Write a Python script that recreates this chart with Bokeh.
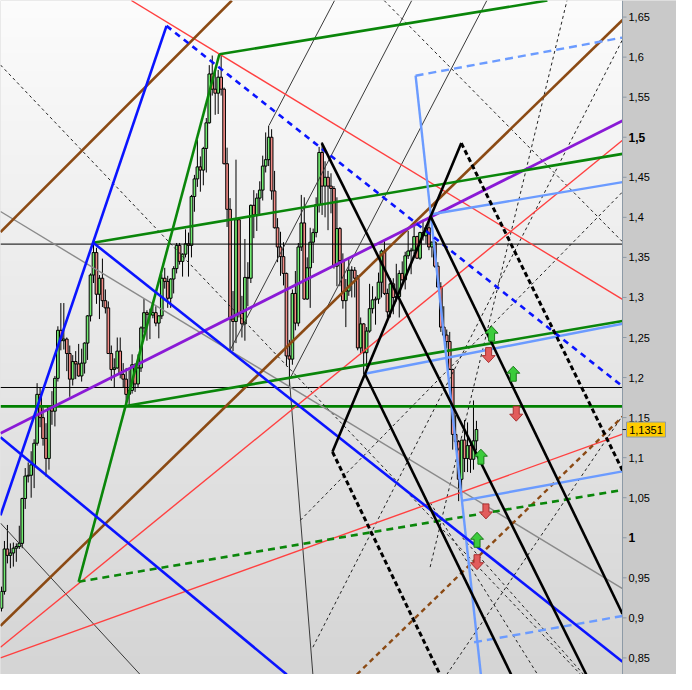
import numpy as np
from bokeh.plotting import figure
from bokeh.models import Range1d, ColumnDataSource
from bokeh.embed import file_html
from bokeh.resources import INLINE

# ---------------- data: monthly EUR/USD candles, May 2002 .. Sep 2015 ----------------
opens = [0.9120, 0.9330, 0.9860, 0.9780, 0.9810, 0.9870, 0.9890, 0.9930,
         1.0490, 1.0770, 1.0780, 1.0910, 1.1180, 1.1790, 1.1500, 1.1240, 1.0990, 1.1650, 1.1580, 1.1990,
         1.2590, 1.2460, 1.2480, 1.2300, 1.1980, 1.2200, 1.2170, 1.2020, 1.2180, 1.2430, 1.2770, 1.3280,
         1.3560, 1.3040, 1.3240, 1.2960, 1.2870, 1.2300, 1.2100, 1.2120, 1.2330, 1.2040, 1.1980, 1.1790,
         1.1840, 1.2160, 1.1920, 1.2120, 1.2620, 1.2810, 1.2790, 1.2780, 1.2810, 1.2680, 1.2770, 1.3240,
         1.3200, 1.2990, 1.3230, 1.3360, 1.3650, 1.3450, 1.3540, 1.3670, 1.3650, 1.4260, 1.4480, 1.4630,
         1.4590, 1.4860, 1.5180, 1.5790, 1.5600, 1.5550, 1.5750, 1.5600, 1.4670, 1.4100, 1.2730, 1.2700,
         1.3970, 1.2800, 1.2670, 1.3250, 1.3240, 1.4150, 1.4030, 1.4240, 1.4340, 1.4640, 1.4720, 1.5000,
         1.4330, 1.3870, 1.3630, 1.3510, 1.3300, 1.2270, 1.2230, 1.3050, 1.2680, 1.3630, 1.3930, 1.2980,
         1.3370, 1.3690, 1.3810, 1.4160, 1.4810, 1.4390, 1.4500, 1.4390, 1.4360, 1.3390, 1.3860, 1.3460,
         1.2960, 1.3080, 1.3340, 1.3340, 1.3240, 1.2370, 1.2670, 1.2310, 1.2580, 1.2860, 1.2970, 1.2980,
         1.3190, 1.3580, 1.3050, 1.2820, 1.3170, 1.3000, 1.3010, 1.3300, 1.3220, 1.3520, 1.3580, 1.3590,
         1.3760, 1.3490, 1.3810, 1.3770, 1.3870, 1.3630, 1.3690, 1.3390, 1.3130, 1.2630, 1.2530, 1.2450,
         1.2100, 1.1290, 1.1200, 1.0730, 1.1220, 1.0990, 1.1150, 1.0980, 1.1210]
highs = [0.9390, 0.9960, 1.0160, 0.9930, 0.9940, 0.9930, 1.0150, 1.0500,
         1.0870, 1.0940, 1.1080, 1.1230, 1.1930, 1.1870, 1.1630, 1.1430, 1.1650, 1.1830, 1.2020, 1.2640,
         1.2930, 1.2930, 1.2500, 1.2400, 1.2280, 1.2330, 1.2420, 1.2360, 1.2440, 1.2780, 1.3300, 1.3666,
         1.3620, 1.3280, 1.3485, 1.3100, 1.2950, 1.2400, 1.2240, 1.2500, 1.2500, 1.2180, 1.2120, 1.2090,
         1.2290, 1.2180, 1.2290, 1.2640, 1.2980, 1.2840, 1.2860, 1.2950, 1.2890, 1.2780, 1.3290, 1.3370,
         1.3270, 1.3240, 1.3390, 1.3680, 1.3680, 1.3550, 1.3850, 1.3810, 1.4280, 1.4530, 1.4970, 1.4760,
         1.4880, 1.5240, 1.5900, 1.6020, 1.5820, 1.5840, 1.6040, 1.5620, 1.4870, 1.4240, 1.3080, 1.4720,
         1.4000, 1.3020, 1.3730, 1.3440, 1.4160, 1.4340, 1.4300, 1.4450, 1.4770, 1.5060, 1.5144, 1.5100,
         1.4580, 1.3990, 1.3820, 1.3690, 1.3310, 1.2470, 1.3100, 1.3330, 1.3680, 1.4280, 1.4250, 1.3500,
         1.3870, 1.3860, 1.4250, 1.4880, 1.4940, 1.4700, 1.4580, 1.4550, 1.4390, 1.4250, 1.3880, 1.3550,
         1.3230, 1.3490, 1.3390, 1.3380, 1.3280, 1.2750, 1.2680, 1.2630, 1.3170, 1.3140, 1.3010, 1.3310,
         1.3600, 1.3710, 1.3110, 1.3240, 1.3240, 1.3420, 1.3340, 1.3450, 1.3570, 1.3830, 1.3620, 1.3890,
         1.3770, 1.3820, 1.3970, 1.3900, 1.3993, 1.3700, 1.3700, 1.3440, 1.3190, 1.2890, 1.2600, 1.2570,
         1.2110, 1.1530, 1.1220, 1.1210, 1.1470, 1.1440, 1.1220, 1.1714, 1.1460]
lows = [0.9080, 0.9290, 0.9680, 0.9620, 0.9640, 0.9700, 0.9860, 0.9870,
        1.0360, 1.0690, 1.0500, 1.0620, 1.1150, 1.1380, 1.1150, 1.0765, 1.0850, 1.1410, 1.1390, 1.1950,
        1.2340, 1.2350, 1.2080, 1.1760, 1.1900, 1.1980, 1.2010, 1.1950, 1.2050, 1.2220, 1.2700, 1.3180,
        1.2920, 1.2730, 1.2880, 1.2800, 1.2300, 1.1960, 1.1870, 1.2110, 1.1990, 1.1870, 1.1640, 1.1640,
        1.1800, 1.1820, 1.1870, 1.2070, 1.2560, 1.2460, 1.2480, 1.2740, 1.2640, 1.2490, 1.2730, 1.3110,
        1.2870, 1.2870, 1.3050, 1.3300, 1.3410, 1.3260, 1.3500, 1.3260, 1.3500, 1.4070, 1.4380, 1.4320,
        1.4400, 1.4560, 1.5170, 1.5520, 1.5280, 1.5290, 1.5520, 1.4660, 1.3880, 1.2330, 1.2330, 1.2430,
        1.2750, 1.2500, 1.2460, 1.2890, 1.3180, 1.3740, 1.3830, 1.4030, 1.4210, 1.4560, 1.4640, 1.4220,
        1.3860, 1.3440, 1.3270, 1.3150, 1.2140, 1.1876, 1.2160, 1.2590, 1.2640, 1.3580, 1.2970, 1.2970,
        1.2870, 1.3430, 1.3750, 1.4060, 1.4030, 1.4000, 1.3840, 1.4050, 1.3360, 1.3140, 1.3140, 1.2860,
        1.2630, 1.3020, 1.3000, 1.3000, 1.2340, 1.2290, 1.2042, 1.2130, 1.2560, 1.2800, 1.2660, 1.2920,
        1.3000, 1.3030, 1.2750, 1.2750, 1.2790, 1.2950, 1.2750, 1.3210, 1.3100, 1.3480, 1.3290, 1.3540,
        1.3480, 1.3470, 1.3710, 1.3670, 1.3590, 1.3500, 1.3370, 1.3130, 1.2570, 1.2500, 1.2360, 1.2100,
        1.1100, 1.1100, 1.0457, 1.0520, 1.0820, 1.0820, 1.0810, 1.0850, 1.1090]
closes = [0.9330, 0.9860, 0.9780, 0.9810, 0.9870, 0.9890, 0.9930, 1.0490,
          1.0770, 1.0780, 1.0910, 1.1180, 1.1790, 1.1500, 1.1240, 1.0990, 1.1650, 1.1580, 1.1990, 1.2590,
          1.2460, 1.2480, 1.2300, 1.1980, 1.2200, 1.2170, 1.2020, 1.2180, 1.2430, 1.2770, 1.3280, 1.3560,
          1.3040, 1.3240, 1.2960, 1.2870, 1.2300, 1.2100, 1.2120, 1.2330, 1.2040, 1.1980, 1.1790, 1.1840,
          1.2160, 1.1920, 1.2120, 1.2620, 1.2810, 1.2790, 1.2780, 1.2810, 1.2680, 1.2770, 1.3240, 1.3200,
          1.2990, 1.3230, 1.3360, 1.3650, 1.3450, 1.3540, 1.3670, 1.3650, 1.4260, 1.4480, 1.4630, 1.4590,
          1.4860, 1.5180, 1.5790, 1.5600, 1.5550, 1.5750, 1.5600, 1.4670, 1.4100, 1.2730, 1.2700, 1.3970,
          1.2800, 1.2670, 1.3250, 1.3240, 1.4150, 1.4030, 1.4240, 1.4340, 1.4640, 1.4720, 1.5000, 1.4330,
          1.3870, 1.3630, 1.3510, 1.3300, 1.2270, 1.2230, 1.3050, 1.2680, 1.3630, 1.3930, 1.2980, 1.3370,
          1.3690, 1.3810, 1.4160, 1.4810, 1.4390, 1.4500, 1.4390, 1.4360, 1.3390, 1.3860, 1.3460, 1.2960,
          1.3080, 1.3340, 1.3340, 1.3240, 1.2370, 1.2670, 1.2310, 1.2580, 1.2860, 1.2970, 1.2980, 1.3190,
          1.3580, 1.3050, 1.2820, 1.3170, 1.3000, 1.3010, 1.3300, 1.3220, 1.3520, 1.3580, 1.3590, 1.3760,
          1.3490, 1.3810, 1.3770, 1.3870, 1.3630, 1.3690, 1.3390, 1.3130, 1.2630, 1.2530, 1.2450, 1.2100,
          1.1290, 1.1200, 1.0730, 1.1220, 1.0990, 1.1150, 1.0980, 1.1210, 1.1351]
last_price = 1.1351
last_price_label = "1,1351"

# horizontal levels
black_levels = [1.3666, 1.1876]
green_levels = [1.1640]

# trend lines: (x0, y0, x1, y1) in (month index, price)
blue_solid = dict(x0=[-0.33, 30.9, -0.33], y0=[1.0280, 1.3683, 1.1256],
                  x1=[55.6, 209.2, 96.1], y1=[1.6390, 0.8451, 0.8293])
blue_dashed = dict(x0=[55.6], y0=[1.6390], x1=[209.2], y1=[1.1890])
green_solid = dict(x0=[30.9, 26.0, 73.4, 41.8], y0=[1.3683, 0.9451, 1.6036, 1.1646],
                   x1=[209.2, 73.4, 183.9, 209.2], y1=[1.4792, 1.6036, 1.6707, 1.2707])
green_dashed = dict(x0=[26.0], y0=[0.9451], x1=[209.2], y1=[1.0597])
brown_solid = dict(x0=[-0.33, -0.33], y0=[1.3817, 0.8902], x1=[77.6, 209.2], y1=[1.6707, 1.6463])
brown_dashed = dict(x0=[119.7], y0=[0.8293], x1=[209.2], y1=[1.1512])
purple_solid = dict(x0=[-0.33], y0=[1.1305], x1=[209.2], y1=[1.5207])
red_solid = dict(x0=[43.75, -0.33, -0.33], y0=[1.6707, 0.8634, 0.8500],
                 x1=[209.2, 209.2, 209.2], y1=[1.2975, 1.4963, 1.1293])
lightblue_solid = dict(x0=[139.5, 122.4, 144.4, 155.3], y0=[1.5768, 1.2048, 1.4036, 1.0463],
                       x1=[161.5, 209.2, 209.2, 209.2], y1=[0.8293, 1.2671, 1.4439, 1.0829])
lightblue_dashed = dict(x0=[139.5, 159.2], y0=[1.5768, 0.8695], x1=[209.2, 209.2], y1=[1.6244, 0.9024])
black_thick = dict(x0=[107.9, 122.4, 144.4, 111.5], y0=[1.4927, 1.2048, 1.4024, 1.1073],
                   x1=[197.0, 171.7, 209.2, 154.9], y1=[0.8293, 0.8293, 0.9049, 1.4927])
black_thick_dashed = dict(x0=[154.9, 111.5], y0=[1.4927, 1.1073], x1=[209.2, 147.7], y1=[1.0841, 0.8293])
dark_thin = dict(x0=[90.1, 77.0, 97.0, 97.0, -0.33], y0=[1.5146, 1.2341, 1.1975, 1.1975, 1.0183],
                 x1=[112.2, 138.2, 163.5, 104.9, 46.7], y1=[1.6707, 1.6707, 1.6707, 0.8293, 0.8293])
gray_thin = dict(x0=[-0.33], y0=[1.4073], x1=[209.2], y1=[0.9366])
dashed_thin = dict(x0=[-0.33, 128.9, 104.9, 100.7, 144.4, 150.0, 144.4, 155.3],
                   y0=[1.5902, 1.6707, 0.8634, 1.0219, 0.9634, 0.8293, 1.0439, 1.0000],
                   x1=[195.1, 209.2, 209.2, 209.2, 190.5, 209.2, 180.6, 196.1],
                   y1=[0.8293, 1.3695, 1.6219, 1.4317, 1.6707, 1.1524, 0.8293, 0.8293])

# signal arrows
up_arrow_x = [165.1, 172.4, 161.5, 160.2]
up_arrow_y = [1.2548, 1.2048, 1.1012, 0.9975]
down_arrow_x = [164.1, 173.4, 163.2, 160.2]
down_arrow_y = [1.2280, 1.1549, 1.0329, 0.9695]

# price axis ticks
tick_values = [0.85, 0.9, 0.95, 1.0, 1.05, 1.1, 1.15, 1.2, 1.25, 1.3, 1.35, 1.4, 1.45, 1.5, 1.55, 1.6, 1.65]
tick_labels = ["0,85", "0,9", "0,95", "1", "1,05", "1,1", "1,15", "1,2", "1,25", "1,3", "1,35",
               "1,4", "1,45", "1,5", "1,55", "1,6", "1,65"]
bold_ticks = [1.0, 1.5]

# ---------------- figure ----------------
W, H, PANEL = 676, 674, 54
x_start, axis_x = -0.33, 209.2            # axis_x: price-axis position (last visible month slot)
y_start, y_end = 0.8293, 1.6707
kx = (axis_x - x_start) / (W - PANEL)     # data units per screen pixel (x)
ky = (y_end - y_start) / H                # data units per screen pixel (y)
x_end = x_start + W * kx
FONT = "Liberation Sans"

p = figure(width=W, height=H, x_range=Range1d(x_start, x_end), y_range=Range1d(y_start, y_end),
           output_backend="svg", toolbar_location=None, x_axis_location=None,
           y_axis_location=None, min_border=0)
p.border_fill_color = "#c9c9c9"
p.background_fill_color = "#c9c9c9"
p.outline_line_color = None
p.grid.visible = False

# chart-area vertical gradient
n = 256
t = np.linspace(0.0, 1.0, n)
top_c = np.array([252, 252, 252], dtype=float)
bot_c = np.array([213, 213, 213], dtype=float)
cols = (bot_c[None, :] * (1 - t[:, None]) + top_c[None, :] * t[:, None]).astype(np.uint8)
img = np.zeros((n, 1), dtype=np.uint32)
view = img.view(dtype=np.uint8).reshape((n, 1, 4))
view[:, 0, 0] = cols[:, 0]
view[:, 0, 1] = cols[:, 1]
view[:, 0, 2] = cols[:, 2]
view[:, 0, 3] = 255
p.image_rgba(image=[img], x=x_start, y=y_start, dw=axis_x - x_start, dh=y_end - y_start)

# candles
idx = list(range(len(closes)))
up_col, dn_col = "#72ec72", "#f28b86"
src = ColumnDataSource(dict(
    x=idx, o=opens, h=highs, l=lows, c=closes,
    top=[max(o, c) for o, c in zip(opens, closes)],
    bottom=[min(o, c) for o, c in zip(opens, closes)],
    color=[up_col if c >= o else dn_col for o, c in zip(opens, closes)],
))
p.segment(x0="x", y0="l", x1="x", y1="h", source=src, line_color="black", line_width=1)
p.vbar(x="x", width=0.9, top="top", bottom="bottom", source=src,
       fill_color="color", line_color="black", line_width=1)

# horizontal levels
for lv in black_levels:
    p.segment(x0=[x_start], y0=[lv], x1=[axis_x], y1=[lv], line_color="black", line_width=1)
for lv in green_levels:
    p.segment(x0=[x_start], y0=[lv], x1=[axis_x], y1=[lv], line_color="#008000", line_width=2.6)


def draw(d, color, width, dash="solid"):
    p.segment(x0=d["x0"], y0=d["y0"], x1=d["x1"], y1=d["y1"], line_color=color,
              line_width=width, line_dash=dash)


draw(dashed_thin, "#222222", 1, "3 3")
draw(dark_thin, "#3a3a3a", 1)
draw(gray_thin, "#8a8a8a", 1.4)
draw(red_solid, "#ff4040", 1.4)
draw(brown_solid, "#8b4a14", 2.6)
draw(brown_dashed, "#8b4a14", 2.4, "5 4")
draw(purple_solid, "#8a1ad6", 2.8)
draw(green_solid, "#0a860a", 2.6)
draw(green_dashed, "#0a860a", 2.6, "7 5")
draw(lightblue_solid, "#6b9bff", 2.4)
draw(lightblue_dashed, "#6b9bff", 2.4, "8 5")
draw(blue_solid, "#0a14ff", 2.6)
draw(blue_dashed, "#0a14ff", 2.6, "6 5")
draw(black_thick, "#000000", 2.6)
draw(black_thick_dashed, "#000000", 3.0, "5 3")

# arrows (shape in screen pixels, converted to data units)
shape_x = [0, 6.5, 3, 3, -3, -3, -6.5]
shape_y = [7.5, 0.5, 0.5, -7.5, -7.5, 0.5, 0.5]


def arrows(xs, ys, sign):
    pxs, pys = [], []
    for x, y in zip(xs, ys):
        pxs.append([x + sx * kx for sx in shape_x])
        pys.append([y + sign * sy * ky for sy in shape_y])
    return pxs, pys


axs, ays = arrows(up_arrow_x, up_arrow_y, 1)
p.patches(axs, ays, fill_color="#3ccc3c", line_color="#1a7a1a", line_width=1)
dxs, dys = arrows(down_arrow_x, down_arrow_y, -1)
p.patches(dxs, dys, fill_color="#e25c5c", line_color="#a83030", line_width=1)

# ---------------- price axis panel (right) ----------------
p.quad(left=[axis_x], right=[x_end], bottom=[y_start], top=[y_end],
       fill_color="#c9c9c9", line_color=None)
axis_col = "#8d9aa6"
p.segment(x0=[axis_x], y0=[y_start], x1=[axis_x], y1=[y_end], line_color=axis_col, line_width=1)
p.segment(x0=[axis_x] * len(tick_values), y0=tick_values,
          x1=[axis_x + 4 * kx] * len(tick_values), y1=tick_values,
          line_color=axis_col, line_width=1)

norm_v = [v for v in tick_values if v not in bold_ticks]
norm_l = [l for v, l in zip(tick_values, tick_labels) if v not in bold_ticks]
bold_v = [v for v in tick_values if v in bold_ticks]
bold_l = [l for v, l in zip(tick_values, tick_labels) if v in bold_ticks]
p.text(x=[axis_x] * len(norm_v), y=norm_v, text=norm_l, x_offset=6,
       text_align="left", text_baseline="middle", text_font={"value": FONT},
       text_font_size="11px", text_color="black")
p.text(x=[axis_x] * len(bold_v), y=bold_v, text=bold_l, x_offset=6,
       text_align="left", text_baseline="middle", text_font={"value": FONT},
       text_font_size="12px", text_font_style="bold", text_color="black")

# last-price tag
p.segment(x0=[axis_x], y0=[last_price], x1=[axis_x + 4 * kx], y1=[last_price],
          line_color="black", line_width=1)
p.rect(x=[axis_x + 23.5 * kx], y=[last_price], width=39, height=15,
       width_units="screen", height_units="screen",
       fill_color="#ffcc00", line_color="#8d9aa6", line_width=1)
p.text(x=[axis_x + 23.5 * kx], y=[last_price], text=[last_price_label],
       text_align="center", text_baseline="middle", text_font={"value": FONT},
       text_font_size="11px", text_color="black")

open("out.html", "w").write(file_html(p, INLINE))
